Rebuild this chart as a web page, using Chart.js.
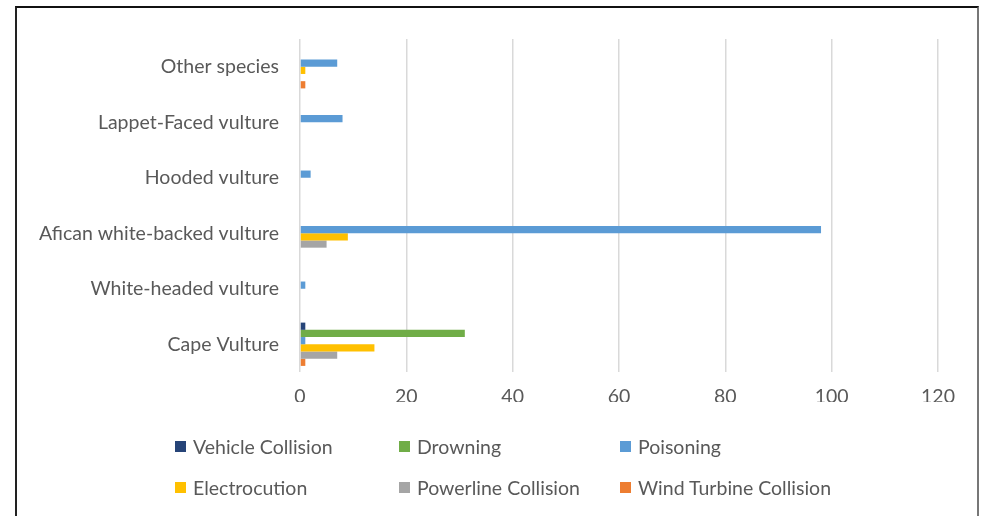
<!DOCTYPE html>
<html>
<head>
<meta charset="utf-8">
<script src="https://cdn.jsdelivr.net/npm/chart.js@4.4.1/dist/chart.umd.min.js"></script>
<style>
  html, body { margin: 0; padding: 0; background: #fff; }
  #wrap { position: relative; width: 984px; height: 516px; overflow: hidden; }
  #frame { position: absolute; left: 15px; top: 6px; width: 960px; height: 520px;
           border-top: 2px solid #111; border-left: 2px solid #222; border-right: 2px solid #777; }
  #c { position: absolute; left: 0; top: 0; }
  #legend { position: absolute; left: 0; top: 0; width: 984px; height: 516px; pointer-events: none;
            font-family: Lato, "Open Sans", sans-serif; font-size: 19.5px; color: #595959; }
  .item { position: absolute; display: flex; align-items: center; white-space: nowrap; }
  .sw { width: 11px; height: 11px; margin-right: 7px; }
</style>
</head>
<body>
<div id="wrap">
  <div id="frame"></div>
  <canvas id="c" width="984" height="516"></canvas>
  <div id="legend"></div>
</div>
<script>
const categories = ["Other species", "Lappet-Faced vulture", "Hooded vulture",
  "Afican white-backed vulture", "White-headed vulture", "Cape Vulture"];
const seriesNames = ["Vehicle Collision", "Drowning", "Poisoning", "Electrocution",
  "Powerline Collision", "Wind Turbine Collision"];
const seriesColors = ["#264478", "#70AD47", "#5B9BD5", "#FFC000", "#A5A5A5", "#ED7D31"];
const vehicleCollision = [0, 0, 0, 0, 0, 1];
const drowning = [0, 0, 0, 0, 0, 31];
const poisoning = [7, 8, 2, 98, 1, 1];
const electrocution = [1, 0, 0, 9, 0, 14];
const powerlineCollision = [0, 0, 0, 5, 0, 7];
const windTurbineCollision = [1, 0, 0, 0, 0, 1];
const xTicks = [0, 20, 40, 60, 80, 100, 120];

const seriesData = [vehicleCollision, drowning, poisoning, electrocution, powerlineCollision, windTurbineCollision];
const FONT = "Lato, 'Open Sans', sans-serif";

new Chart(document.getElementById('c'), {
  type: 'bar',
  data: {
    labels: categories,
    datasets: seriesNames.map((n, i) => ({
      label: n,
      data: seriesData[i],
      backgroundColor: seriesColors[i],
      borderWidth: 0,
      categoryPercentage: 0.78,
      barPercentage: 1.0
    }))
  },
  options: {
    indexAxis: 'y',
    responsive: false,
    animation: false,
    layout: { padding: { left: 0, right: 46, top: 39, bottom: 114 } },
    plugins: { legend: { display: false }, tooltip: { enabled: false } },
    scales: {
      x: {
        min: 0, max: 120,
        afterBuildTicks: (s) => { s.ticks = xTicks.map(v => ({ value: v })); },
        grid: { color: '#D9D9D9', lineWidth: 1.5, drawTicks: false },
        border: { display: false },
        ticks: { color: '#595959', font: { family: FONT, size: 19.5 }, padding: 13 },
        afterFit: (s) => { s.height = 30; }
      },
      y: {
        grid: { display: false },
        border: { display: false },
        ticks: { color: '#595959', font: { family: FONT, size: 19.5 }, padding: 13 },
        afterFit: (s) => { s.width = 300; }
      }
    }
  }
});

const legendPos = [[175, 448], [399, 448], [620, 448], [175, 489], [399, 489], [620, 489]];
const lg = document.getElementById('legend');
seriesNames.forEach((n, i) => {
  const d = document.createElement('div');
  d.className = 'item';
  d.style.left = legendPos[i][0] + 'px';
  d.style.top = (legendPos[i][1] - 13) + 'px';
  d.innerHTML = '<span class="sw" style="background:' + seriesColors[i] + '"></span><span>' + n + '</span>';
  lg.appendChild(d);
});
</script>
</body>
</html>
